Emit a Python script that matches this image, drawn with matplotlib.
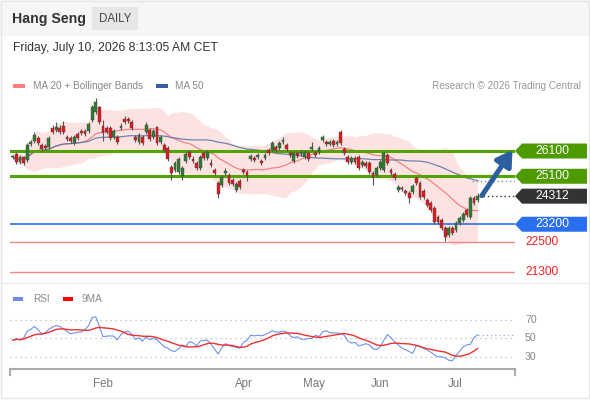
import matplotlib
matplotlib.use('Agg')
import matplotlib.pyplot as plt
import numpy as np
import pandas as pd
from matplotlib.patches import Polygon, Rectangle
from matplotlib.transforms import blended_transform_factory as btf

plt.rcParams['font.family'] = ['Liberation Sans', 'DejaVu Sans']

# ---------------- data ----------------
opens = [25860,25980,25660,25860,25740,26380,26500,26620,26340,26300,
         26260,27010,26930,27010,27090,26650,26620,26420,26770,26890,
         26890,26890,27330,27640,27840,27090,27010,27010,26650,26650,
         27010,27370,27370,27250,26650,26460,26650,26850,26930,26650,
         27050,26460,26340,26220,25470,25350,25270,25110,25700,26060,
         25780,25630,25430,26020,25820,25630,25350,24830,24750,25230,
         25150,24950,24560,24910,25350,25270,25780,25820,25860,25700,
         25820,26140,26140,26260,26220,26460,26340,26020,25700,26020,
         25980,25860,26020,26180,26020,26060,26540,26460,26380,26500,
         26380,26850,26180,25860,25660,25820,25860,25550,25630,25630,
         25230,25150,25430,25350,25940,25350,25190,24560,24630,24520,
         24440,24480,25030,24830,24520,24160,24040,23840,23490,23370,
         23050,22770,23050,22970,23250,23370,23760,23490,24240,24160]
closes = [25870,25660,25860,25630,26340,26460,26730,26420,26180,26220,
          26620,26850,27050,26850,26850,26580,26500,26650,26620,26810,
          26770,27170,27840,28040,27250,26810,26850,26620,26890,26460,
          27090,27250,27290,27010,26540,26730,26420,27130,26580,26890,
          26420,26650,26140,25780,25230,25630,25780,25430,25980,25860,
          25700,25430,25860,25820,26060,25550,25230,24400,25070,25310,
          24830,24790,24790,24670,25270,25110,25900,25740,25940,25630,
          25940,26020,26420,26140,26420,26540,26180,25940,26020,25900,
          26060,26060,25780,26260,25940,26220,26650,26380,26460,26340,
          26460,26420,26020,25660,25820,25660,25430,25660,25510,25270,
          25070,25430,25660,26020,25630,25230,25030,24670,24600,24440,
          24240,24710,24830,24280,24280,23960,23760,23290,23290,23050,
          22690,23050,22850,23250,23450,23610,23570,24240,24040,24312]
highs = [25950,26060,25940,25920,26420,26540,26850,26700,26400,26370,
         26700,27130,27250,27130,27290,26720,26700,26740,26850,26960,
         26980,27250,27920,28200,27900,27330,27100,27090,26970,26720,
         27210,27490,27450,27330,26730,26810,26730,27250,27010,26970,
         27100,26740,26420,26300,25550,25710,25860,25510,26060,26140,
         25900,25710,25940,26100,26140,25790,25430,24910,25150,25430,
         25230,25030,24870,24990,25430,25350,25980,25900,26020,25780,
         26020,26220,26500,26340,26500,26660,26420,26100,26100,26100,
         26140,26140,26100,26460,26100,26300,26730,26540,26540,26580,
         26540,26930,26260,25940,25900,25900,25940,25740,25710,25710,
         25310,25510,25740,26100,26020,25430,25270,24750,24710,24600,
         24520,24790,25110,24910,24600,24240,24120,23920,23570,23450,
         23130,23130,23130,23330,23530,23690,23840,24320,24330,24440]
lows = [25780,25580,25580,25550,25660,26300,26420,26340,26100,26140,
        26180,26770,26850,26770,26770,26500,26420,26340,26540,26730,
        26690,26810,27250,27560,27170,26500,26770,26540,26570,26380,
        26930,27170,27210,26930,26460,26380,26340,26770,26500,26570,
        26340,26380,26060,25700,24950,25270,25190,24950,25620,25780,
        25620,25350,25350,25740,25740,25470,25150,24240,24670,25150,
        24750,24710,24480,24590,25190,24910,25700,25660,25780,25550,
        25740,25940,26060,26060,26140,26380,26100,25860,25620,25820,
        25900,25780,25700,26100,25860,25980,26460,26300,26300,26260,
        26300,26340,25940,25580,25580,25580,25350,25470,25430,25190,
        24750,25070,25350,25270,25550,25150,24950,24480,24520,24360,
        24040,24400,24750,24200,24200,23880,23680,23210,23210,22970,
        22540,22690,22770,22890,23170,23290,23490,23410,23960,24080]
rsi = [48.2,50,48.2,50.7,58,60,63,59.5,55,56,
       60,62.3,64,63,60.5,57.7,55,56,56.7,57,
       59.8,63.7,72.5,73.5,63.3,52,52.5,52.8,52.5,48.6,
       54.2,57,58,54.6,49,50.7,47.2,51.8,48.6,50,
       49,44.7,41.2,39.5,36.7,36,38.8,43,41.2,46.5,
       45.4,42,47.2,48,48.2,44,38.4,33.2,40,44.4,
       42.3,41.2,40.5,39.5,45.8,48,53.5,52.8,53.5,52.8,
       54.2,56,58.4,57,56.7,58,57,52.8,51,51.8,
       49.3,49,50,50,53.5,52,57,58.4,56.3,56,
       56,55.3,53.5,47.2,45,45.8,42,43,44.4,43,
       38.8,38,41.2,48.2,54.2,50.7,46.5,43,39.5,38,
       36,33.9,42.3,41.6,39.5,37.4,35.3,32.5,30.3,30.3,
       29,26.5,25.8,31.7,36,40.9,43,43.7,51,54]

month_labels = ['Feb', 'Apr', 'May', 'Jun', 'Jul']
month_pos = [25, 64, 83.5, 102, 122.8]

resistances = [26100, 25100]
last_price = 24312
support_blue = 23200
supports_red = [22500, 21300]
rsi_levels = [70, 50, 30]

# ---------------- styles ----------------
W, H = 590, 400
GREEN_LINE = '#52a200'
GREEN_BOX = '#4d9b00'
BLUE = '#2a6ff0'
RED_TXT = '#ff1d1d'
RED_LINE = '#f28a8a'
C_UP = '#2e7d32'
C_DN = '#e3191c'

def fx(x):
    return x / W

def fy(y):
    return 1 - y / H

fig = plt.figure(figsize=(W / 100, H / 100), dpi=100)
fig.patch.set_facecolor('white')

# header + borders
fig.patches.append(Rectangle((0, fy(36)), 1, 36 / H, transform=fig.transFigure,
                             facecolor='#f6f6f6', edgecolor='none', zorder=0))
fig.patches.append(Rectangle((fx(1), fy(398)), 588 / W, 397 / H, transform=fig.transFigure,
                             facecolor='none', edgecolor='#e6e6e6', lw=1, zorder=0))
fig.patches.append(Rectangle((fx(92), fy(30)), 46 / W, 23 / H, transform=fig.transFigure,
                             facecolor='#e6e6e6', edgecolor='none', zorder=1))
fig.lines.append(plt.Line2D([fx(1), fx(589)], [fy(283), fy(283)], transform=fig.transFigure,
                            color='#ececec', lw=1))

fig.text(fx(12), fy(19), 'Hang Seng', fontsize=10.2, fontweight='bold', color='#333333', va='center')
fig.text(fx(115), fy(19), 'DAILY', fontsize=8.3, color='#444444', va='center', ha='center')
fig.text(fx(13), fy(48), 'Friday, July 10, 2026 8:13:05 AM CET', fontsize=8.7, color='#333333', va='center')

# legends
fig.patches.append(Rectangle((fx(13), fy(88)), 12 / W, 4 / H, transform=fig.transFigure,
                             facecolor='#ff8080', edgecolor='none'))
fig.text(fx(33), fy(86), 'MA 20 + Bollinger Bands', fontsize=7.2, color='#888888', va='center')
fig.patches.append(Rectangle((fx(156), fy(88)), 12 / W, 4 / H, transform=fig.transFigure,
                             facecolor='#3b5ea0', edgecolor='none'))
fig.text(fx(175), fy(86), 'MA 50', fontsize=7.2, color='#888888', va='center')
fig.text(fx(581), fy(86), 'Research \u00a9 2026 Trading Central', fontsize=7.2, color='#999999',
         va='center', ha='right')

fig.patches.append(Rectangle((fx(13), fy(301)), 10 / W, 4 / H, transform=fig.transFigure,
                             facecolor='#6a8ef0', edgecolor='none'))
fig.text(fx(33), fy(299), 'RSI', fontsize=7.2, color='#888888', va='center')
fig.patches.append(Rectangle((fx(63), fy(301)), 10 / W, 4 / H, transform=fig.transFigure,
                             facecolor='#ff0000', edgecolor='none'))
fig.text(fx(82), fy(299), '9MA', fontsize=7.2, color='#888888', va='center')

# ---------------- main price chart ----------------
n = len(closes)
idx = np.arange(n)
o = np.array(opens, float)
c = np.array(closes, float)
hi = np.array(highs, float)
lo = np.array(lows, float)

cs = pd.Series(c)
ma20 = cs.rolling(20, min_periods=1).mean()
sd20 = cs.rolling(20, min_periods=1).std(ddof=0)
up = ma20 + 2 * sd20
dn = ma20 - 2 * sd20
ma50 = cs.rolling(50, min_periods=1).mean()

XMIN, XMAX = -0.8, 139.4
ax = fig.add_axes([fx(10), fy(285), 505 / W, 190 / H])
ax.set_xlim(XMIN, XMAX)
ax.set_ylim(20794, 28318)
ax.axis('off')

ax.fill_between(idx, dn, up, color='#fde2e2', lw=0, zorder=1)
ax.plot(idx, ma20, color='#f08585', lw=0.9, zorder=2)
ax.plot(idx, ma50, color='#5573a8', lw=0.9, alpha=0.85, zorder=2)

for lvl in resistances:
    ax.axhline(lvl, color=GREEN_LINE, lw=2.2, zorder=3)
ax.axhline(support_blue, color=BLUE, lw=1.2, zorder=3)
for lvl in supports_red:
    ax.axhline(lvl, color=RED_LINE, lw=1.0, zorder=3)

# candles
ax.vlines(idx, lo, hi, color='#555555', lw=0.8, zorder=4)
body_lo = np.minimum(o, c)
body_h = np.maximum(np.abs(c - o), 35)
colors = [C_UP if cc >= oo else C_DN for oo, cc in zip(o, c)]
ax.bar(idx, body_h, bottom=body_lo, width=0.78, color=colors, edgecolor='#444444',
       linewidth=0.3, zorder=5)

bt = btf(ax.transAxes, ax.transData)
# dotted extensions
ax.plot([n - 1 + 0.4, XMAX], [last_price, last_price], color='#333333', lw=1.0,
        ls=(0, (1, 2)), zorder=4)
ax.plot([n - 1 - 1.5, XMAX], [ma50.iloc[-1], ma50.iloc[-1]], color='#7f8fb0', lw=1.0,
        ls=(0, (1, 2)), zorder=4)

# arrow
ax.annotate('', xy=(0.995, 26140), xycoords=bt, xytext=(n - 1 + 1.2, last_price + 20),
            textcoords='data',
            arrowprops=dict(arrowstyle='-|>,head_length=0.9,head_width=0.55', lw=3.6,
                            color='#2d5f9e', shrinkA=0, shrinkB=0), zorder=6)

# labels on the right
ypp = (28318 - 20794) / 190.0
hh = 7.5 * ypp

def tag(price, face, text):
    xs = [1.0, (522 - 10) / 505, (587 - 10) / 505, (587 - 10) / 505, (522 - 10) / 505]
    ys = [price, price + hh, price + hh, price - hh, price - hh]
    ax.add_patch(Polygon(list(zip(xs, ys)), closed=True, transform=bt, facecolor=face,
                         edgecolor='none', clip_on=False, zorder=7))
    ax.text((552 - 10) / 505, price, text, transform=bt, color='white', fontsize=8.8,
            ha='center', va='center', clip_on=False, zorder=8)

tag(resistances[0], GREEN_BOX, str(resistances[0]))
tag(resistances[1], GREEN_BOX, str(resistances[1]))
tag(last_price, '#333333', str(last_price))
tag(support_blue, BLUE, str(support_blue))
for lvl in supports_red:
    ax.text((525 - 10) / 505, lvl, str(lvl), transform=bt, color=RED_TXT, fontsize=8.6,
            ha='left', va='center', clip_on=False)

# ---------------- RSI panel ----------------
ax2 = fig.add_axes([fx(10), fy(369), 505 / W, 64 / H])
ax2.set_xlim(XMIN, XMAX)
ax2.set_ylim(17, 86.2)
for s in ['top', 'right', 'left']:
    ax2.spines[s].set_visible(False)
ax2.spines['bottom'].set_color('#aaaaaa')
ax2.spines['bottom'].set_linewidth(1.5)
ax2.set_yticks([])
ax2.set_xticks(month_pos)
ax2.set_xticklabels(month_labels, fontsize=8.3, color='#777777')
ax2.tick_params(axis='x', length=0, pad=6.5)

bt2 = btf(ax2.transAxes, ax2.transAxes)
for xe in [0.0, 1.0]:
    ax2.plot([xe, xe], [0, -0.09], transform=bt2, color='#aaaaaa', lw=1.5, clip_on=False)

for lvl in rsi_levels:
    ax2.axhline(lvl, color='#bbbbbb', lw=0.9, ls=(0, (1, 3)))
    ax2.text((525 - 10) / 505, lvl, str(lvl), transform=btf(ax2.transAxes, ax2.transData),
             fontsize=7.6, color='#888888', va='center', ha='left', clip_on=False)

rs = pd.Series(rsi)
rsi_ma = rs.rolling(9, min_periods=1).mean()
ax2.plot(idx, rs, color='#7090ee', lw=0.8, zorder=3)
ax2.plot(idx, rsi_ma, color='#f03030', lw=1.0, zorder=4)
ax2.plot([n - 1, XMAX], [rsi[-1], rsi[-1]], color='#9fb3f0', lw=1.0, ls=(0, (1, 2)))

fig.savefig('out.png', dpi=100, facecolor='white')
